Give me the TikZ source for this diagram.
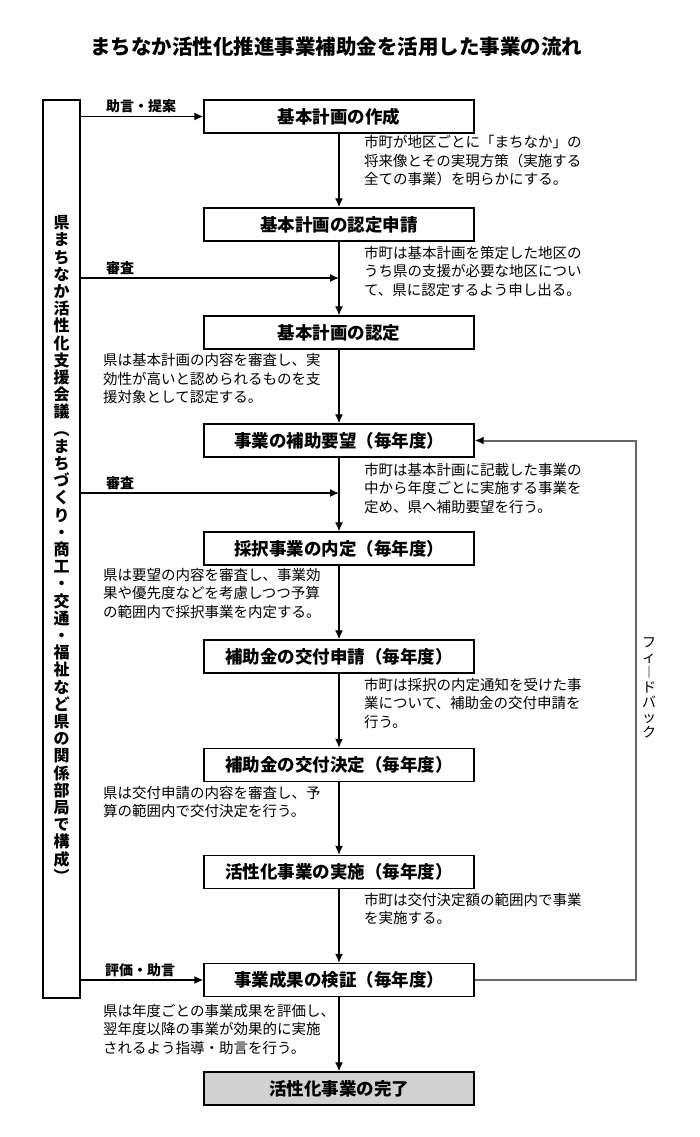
\documentclass[tikz,border=0pt]{standalone}
\usepackage{fontspec}
\setmainfont{Noto Sans CJK JP}
\usetikzlibrary{arrows.meta}
\tikzset{
  stepbox/.style={draw, line width=1.4pt, minimum width=270pt, minimum height=33pt, inner sep=0pt,
    font=\fontsize{17.5}{17.5}\selectfont\bfseries, fill=white},
  endbox/.style={stepbox, fill=black!18},
  desc/.style={anchor=north west, align=left, inner sep=0pt, font=\fontsize{14.5}{18.3}\selectfont},
  lbl/.style={anchor=west, inner sep=0pt, font=\fontsize{14}{14}\selectfont\bfseries},
  arr/.style={line width=1.3pt, -{Latex[length=9pt,width=8pt]}},
  fb/.style={line width=2pt, draw=black!60, -{Latex[length=9pt,width=8pt,color=black]}},
  vtext/.style={align=center, inner sep=0pt},
}
\begin{document}
\begin{tikzpicture}[x=1pt,y=-1pt]
\useasboundingbox (0,0) rectangle (700,1137);

\node[font=\fontsize{20.5}{20.5}\selectfont\bfseries] (title) at (336,47) {まちなか活性化推進事業補助金を活用した事業の流れ};

% left council box
\node[draw, line width=1.4pt, minimum width=37pt, minimum height=898pt, inner sep=0pt,
      font=\fontsize{16}{17.2}\selectfont\bfseries, align=center] (council) at (61.5,549)
 {県\\ま\\ち\\な\\か\\活\\性\\化\\支\\援\\会\\議\\︵\\ま\\ち\\づ\\く\\り\\・\\商\\工\\・\\交\\通\\・\\福\\祉\\な\\ど\\県\\の\\関\\係\\部\\局\\で\\構\\成\\︶};

% main boxes
\node[stepbox] (b1) at (339,116.5) {基本計画の作成};
\node[stepbox] (b2) at (339,224.5) {基本計画の認定申請};
\node[stepbox] (b3) at (339,332.5) {基本計画の認定};
\node[stepbox] (b4) at (339,440.5) {事業の補助要望（毎年度）};
\node[stepbox] (b5) at (339,548.5) {採択事業の内定（毎年度）};
\node[stepbox] (b6) at (339,656.5) {補助金の交付申請（毎年度）};
\node[stepbox] (b7) at (339,765) {補助金の交付決定（毎年度）};
\node[stepbox] (b8) at (339,872) {活性化事業の実施（毎年度）};
\node[stepbox] (b9) at (339,980) {事業成果の検証（毎年度）};
\node[endbox] (b10) at (339,1088.5) {活性化事業の完了};

% vertical flow
\draw[arr] (b1) -- (b2);
\draw[arr] (b2) -- (b3);
\draw[arr] (b3) -- (b4);
\draw[arr] (b4) -- (b5);
\draw[arr] (b5) -- (b6);
\draw[arr] (b6) -- (b7);
\draw[arr] (b7) -- (b8);
\draw[arr] (b8) -- (b9);
\draw[arr] (b9) -- (b10);

% arrows from council
\coordinate (j1) at (339,278);
\coordinate (j2) at (339,493);
\draw[arr] (council.east |- b1.west) -- (b1.west);
\draw[arr] (council.east |- j1) -- (j1);
\draw[arr] (council.east |- j2) -- (j2);
\draw[arr] (council.east |- b9.west) -- (b9.west);
\node[lbl] (l1) at (106,106.5) {助言・提案};
\node[lbl] (l2) at (106,268) {審査};
\node[lbl] (l3) at (106,483) {審査};
\node[lbl] (l4) at (105,970.5) {評価・助言};

% feedback
\coordinate (fbx) at (636,0);
\draw[fb] (b9.east) -- (b9.east -| fbx) -- (b4.east -| fbx) -- (b4.east);
\node[vtext, font=\fontsize{14}{15}\selectfont] (fbl) at (649,688)
 {フ\\ィ\\︱\\ド\\バ\\ッ\\ク};

% descriptions
\node[desc] (d1) at (364,135.5) {市町が地区ごとに「まちなか」の\\将来像とその実現方策（実施する\\全ての事業）を明らかにする。};
\node[desc] (d2) at (364,246) {市町は基本計画を策定した地区の\\うち県の支援が必要な地区につい\\て、県に認定するよう申し出る。};
\node[desc] (d3) at (103,353.5) {県は基本計画の内容を審査し、実\\効性が高いと認められるものを支\\援対象として認定する。};
\node[desc] (d4) at (364,463) {市町は基本計画に記載した事業の\\中から年度ごとに実施する事業を\\定め、県へ補助要望を行う。};
\node[desc] (d5) at (103,568) {県は要望の内容を審査し、事業効\\果や優先度などを考慮しつつ予算\\の範囲内で採択事業を内定する。};
\node[desc] (d6) at (364,678) {市町は採択の内定通知を受けた事\\業について、補助金の交付申請を\\行う。};
\node[desc] (d7) at (103,786) {県は交付申請の内容を審査し、予\\算の範囲内で交付決定を行う。};
\node[desc] (d8) at (364,893) {市町は交付決定額の範囲内で事業\\を実施する。};
\node[desc] (d9) at (103,1004) {県は年度ごとの事業成果を評価し、\\翌年度以降の事業が効果的に実施\\されるよう指導・助言を行う。};
\end{tikzpicture}
\end{document}
